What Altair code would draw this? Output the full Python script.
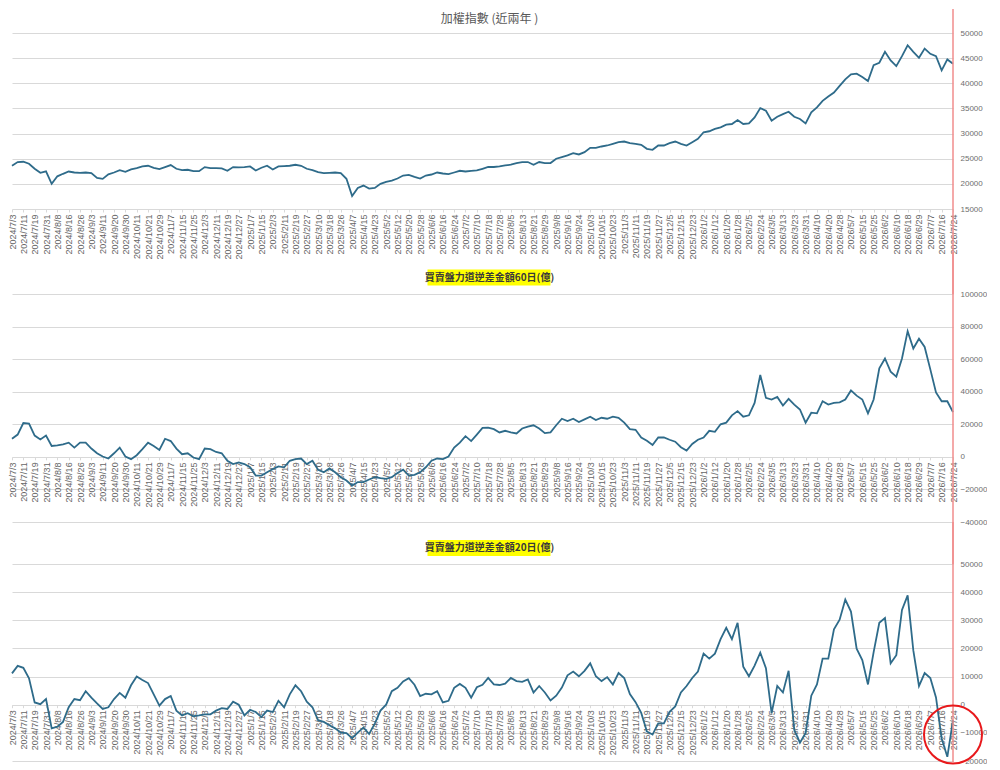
import altair as alt
import pandas as pd

# ---- x-axis tick labels (every 6 trading days) ----
LABELS = [
    "2024/7/3", "2024/7/11", "2024/7/19", "2024/7/31", "2024/8/8", "2024/8/16", "2024/8/26",
    "2024/9/3", "2024/9/11", "2024/9/20", "2024/9/30", "2024/10/11", "2024/10/21", "2024/10/29",
    "2024/11/7", "2024/11/15", "2024/11/25", "2024/12/3", "2024/12/11", "2024/12/19", "2024/12/27",
    "2025/1/7", "2025/1/15", "2025/2/3", "2025/2/11", "2025/2/19", "2025/2/27", "2025/3/10",
    "2025/3/18", "2025/3/26", "2025/4/7", "2025/4/15", "2025/4/23", "2025/5/2", "2025/5/12",
    "2025/5/20", "2025/5/28", "2025/6/6", "2025/6/16", "2025/6/24", "2025/7/2", "2025/7/10",
    "2025/7/18", "2025/7/28", "2025/8/5", "2025/8/13", "2025/8/21", "2025/8/29", "2025/9/8",
    "2025/9/16", "2025/9/24", "2025/10/3", "2025/10/15", "2025/10/23", "2025/11/3", "2025/11/11",
    "2025/11/19", "2025/11/27", "2025/12/5", "2025/12/15", "2025/12/23", "2026/1/2", "2026/1/12",
    "2026/1/20", "2026/1/28", "2026/2/5", "2026/2/24", "2026/3/5", "2026/3/13", "2026/3/23",
    "2026/3/31", "2026/4/10", "2026/4/20", "2026/4/28", "2026/5/7", "2026/5/15", "2026/5/25",
    "2026/6/2", "2026/6/10", "2026/6/18", "2026/6/29", "2026/7/7", "2026/7/16", "2026/7/24",
]
LABEL_STEP = 6   # trading days between labels
SAMPLE_STEP = 3  # trading days between samples below

# ---- series (one value every 3 trading days) ----
TAIEX = [
    23600, 24330, 24400, 24000, 23000, 22200, 22500, 20000, 21500, 22000,
    22450, 22260, 22200, 22260, 22130, 21200, 21000, 21900, 22260, 22730,
    22400, 22860, 23130, 23460, 23600, 23200, 22930, 23330, 23730, 23000,
    22730, 22800, 22530, 22530, 23330, 23130, 23130, 23060, 22600, 23330,
    23260, 23330, 23460, 22660, 23200, 23600, 22860, 23460, 23530, 23600,
    23800, 23600, 23000, 22730, 22330, 22130, 22200, 22260, 22130, 21000,
    17600, 19200, 19660, 19060, 19200, 20000, 20400, 20660, 21060, 21660,
    21800, 21400, 21060, 21660, 21860, 22260, 22060, 21930, 22260, 22600,
    22460, 22600, 22660, 23000,
    23350, 23350, 23480, 23680, 23810, 24140, 24340, 24340, 23810, 24340,
    24140, 24140, 25000, 25330, 25650, 26110, 25850, 26310, 27170, 27170,
    27430, 27630, 27960, 28290, 28420, 28090, 27960, 27760, 26970, 26770,
    27630, 27630, 28090, 28420, 27960, 27630, 28290, 28940, 30260, 30460,
    30920, 31250, 31770, 31900, 32700, 31900, 32030, 33220, 35060, 34540,
    32570, 33350, 33880, 34340, 33350, 32890, 32030, 34210, 35200, 36510,
    37370, 38160, 39470, 40790, 41780, 41910, 41250, 40460, 43620, 44080,
    46250, 44540, 43420, 45390, 47560, 46250, 45070, 46910, 45860, 45390,
    42560, 44740, 43880,
]
DIFF60 = [
    11100, 13700, 20800, 20400, 13100, 10700, 13100, 6700, 7100, 7700,
    8700, 5700, 8700, 8700, 5100, 2200, 200, -1000, 2200, 5700,
    200, -1400, 1000, 4700, 8700, 6700, 4200, 11100, 9700, 5100,
    1600, 2200, -400, -1400, 5100, 4700, 3000, 2200, -2400, -4400,
    -3400, -4400, -6400, -11500, -11500, -9500, -7500, -5900, -6400, -2400,
    -1400, -1000, -4400, -2400, -7900, -9500, -7100, -9500, -12500, -14500,
    -17600, -15500, -15500, -13900, -12500, -13100, -13500, -12500, -9900, -7900,
    -11500, -11100, -9500, -6400, -2400, -1000, -1400, 200, 5700, 8700,
    12700, 9700, 13700, 17800,
    18000, 17000, 15000, 16000, 15000, 14350, 17400, 18600, 19400, 17400,
    14550, 15000, 19400, 23400, 22000, 23400, 21400, 23000, 24650, 22600,
    24000, 23400, 24650, 24000, 21000, 17000, 16600, 11900, 9900, 7300,
    11900, 11900, 10500, 9300, 5900, 3850, 7900, 10500, 11900, 16000,
    15400, 20000, 21000, 25500, 28100, 24650, 25500, 33100, 50300, 36200,
    35200, 36800, 31500, 35600, 32100, 29100, 21000, 27100, 26700, 34150,
    32100, 33100, 33500, 35200, 40800, 37600, 35200, 26700, 35200, 54300,
    60400, 52300, 49300, 60400, 77200, 66500, 72500, 67500, 53700, 39600,
    34150, 34150, 27500,
]
DIFF20 = [
    11150, 13800, 13100, 9400, 800, 200, 2000, -8400, -7800, -6100,
    -900, 2000, 1600, 4800, 2500, 450, -1500, -900, 2000, 4200,
    2500, 6900, 10000, 8800, 7700, 3700, -300, 2000, 3100, -2100,
    -3800, -3000, -4100, -3800, -3400, -3400, -2100, -1200, -1500, 1100,
    0, -3800, -1800, -2600, -4400, -2100, -2600, 1400, -900, 3700,
    6900, 4800, 1100, -900, -5500, -6100, -7300, -8400, -9900, -10100,
    -11900, -9900, -8100, -10400, -6700, -2100, 0, 4800, 6000, 8300,
    9400, 7100, 3100, 3900, 3700, 4800, 800, 1400, 6000, 7400,
    6000, 2500, 6200, 7100,
    9500, 7200, 7000, 7450, 9500, 8400, 8150, 9000, 4350, 6650,
    4350, 1500, 3200, 6100, 10450, 11800, 10100, 12050, 14700, 10100,
    8400, 9800, 7200, 11250, 9500, 3800, 900, -2900, -9500, -10600,
    -6600, -6600, -2550, -600, 4350, 6650, 9500, 11800, 18150, 16400,
    18150, 23300, 27350, 23300, 29100, 13550, 10100, 13900, 18500, 13000,
    -3000, 6650, 4350, 12050, -8900, -13500, -10000, 3200, 7200, 16400,
    16400, 26800, 30200, 37350, 33100, 19900, 15850, 7200, 18700, 29100,
    30800, 14700, 17600, 33700, 38850, 19300, 6650, 11250, 9500, 2600,
    -12000, -18500, -5500,
]

TITLES = ["加權指數 (近兩年 )", "買賣盤力道逆差金額60日(億)", "買賣盤力道逆差金額20日(億)"]
Y1_TICKS = [15000, 20000, 25000, 30000, 35000, 40000, 45000, 50000]
Y2_TICKS = [-40000, -20000, 0, 20000, 40000, 60000, 80000, 100000]
Y3_TICKS = [-20000, -10000, 0, 10000, 20000, 30000, 40000, 50000]
MARK_POINT = {"t": [498], "v": [-10600]}  # circled last reading

df = pd.DataFrame({
    "t": [i * SAMPLE_STEP for i in range(len(TAIEX))],
    "taiex": TAIEX, "d60": DIFF60, "d20": DIFF20,
})
last_t = (len(LABELS) - 1) * LABEL_STEP

W = 941
LINE_COLOR = "#2e6b8a"
RED_LINE = "#f08c8c"
GRID = "#d9d9d9"
LBL_FONT = "Liberation Sans"
CJK = "Noto Sans CJK TC"

label_expr = "[" + ",".join("'" + s + "'" for s in LABELS) + "][round(datum.value / 6)]"
tick_vals = [i * LABEL_STEP for i in range(len(LABELS))]


def x_enc(offset):
    return alt.X(
        "t:Q",
        scale=alt.Scale(domain=[0, last_t], nice=False, zero=False),
        axis=alt.Axis(values=tick_vals, labelExpr=label_expr, labelAngle=-90,
                      labelFontSize=9, labelColor="#666666", labelFont=LBL_FONT,
                      grid=False, domain=False, ticks=True, tickColor=GRID, tickSize=3,
                      labelPadding=2, offset=offset, title=None, labelOverlap=False,
                      labelFlush=False, labelBound=False),
    )


def y_axis(ticks):
    return alt.Axis(orient="right", values=ticks, format="d", labelFontSize=8,
                    labelColor="#6e6e6e", labelFont=LBL_FONT, grid=True, gridColor=GRID,
                    gridWidth=1, domain=False, ticks=False, labelPadding=7, title=None,
                    labelOverlap=False)


def panel(field, ticks, height, yrange, x_offset, title, title_y, highlight,
          rule_top, rule_bottom, circle=False):
    dom = [ticks[0], ticks[-1]]
    if yrange is None:
        yscale = alt.Scale(domain=dom, nice=False, zero=False)
    else:
        yscale = alt.Scale(domain=dom, nice=False, zero=False, range=yrange)
    xe = x_enc(x_offset)
    line = alt.Chart(df).mark_line(color=LINE_COLOR, strokeWidth=1.8).encode(
        x=xe,
        y=alt.Y(f"{field}:Q", scale=yscale, axis=y_axis(ticks)),
    )
    one = pd.DataFrame({"t": [last_t], "s": [title]})
    rule = alt.Chart(one).mark_rule(color=RED_LINE, strokeWidth=1.5).encode(
        x=xe, y=alt.value(rule_top), y2=alt.value(rule_bottom))
    layers = []
    if highlight:
        layers.append(alt.Chart(one).mark_rect(color="#ffff00").encode(
            x=alt.value(415.5), x2=alt.value(538.5),
            y=alt.value(title_y - 8), y2=alt.value(title_y + 8)))
    layers.append(line)
    layers.append(rule)
    if highlight:
        txt = alt.Chart(one).mark_text(font=CJK, fontSize=10, fontWeight="bold",
                                       color="#3a3a3a", align="center", baseline="middle")
    else:
        txt = alt.Chart(one).mark_text(font=CJK, fontSize=12, color="#595959",
                                       align="center", baseline="middle")
    layers.append(txt.encode(x=alt.value(477.5), y=alt.value(title_y), text="s:N"))
    if circle:
        cdf = pd.DataFrame(MARK_POINT)
        layers.append(alt.Chart(cdf).mark_point(shape="circle", size=3364, filled=False,
                                                color="#e8191c", strokeWidth=2, opacity=1)
                      .encode(x=xe, y=alt.Y("v:Q", scale=yscale, axis=y_axis(ticks))))
    return alt.layer(*layers).properties(width=W, height=height)


H1, H1_RANGE = 219, 176
H2 = 228
H3 = 197
off2 = -(H2 - H2 * 100000 / 140000)
off3 = -(H3 - H3 * 50000 / 70000)

p1 = panel("taiex", Y1_TICKS, H1, [H1_RANGE, 0], -(H1 - H1_RANGE), TITLES[0], -14, False,
           -24, H1 + 42)
p2 = panel("d60", Y2_TICKS, H2, None, off2, TITLES[1], -16.5, True, -42, H2 + 42)
p3 = panel("d20", Y3_TICKS, H3, None, off3, TITLES[2], -16, True, -42, H3 + 1, circle=True)

chart = alt.vconcat(p1, p2, p3, spacing=42, bounds="flush").properties(
    padding={"left": 0, "top": 0, "right": 0, "bottom": 0}
).configure_view(stroke=None).configure_axisX(labelOverlap=False).configure_axis(labelOverlap=False)

chart.save("out.html", embed_options={"renderer": "svg", "actions": False})
